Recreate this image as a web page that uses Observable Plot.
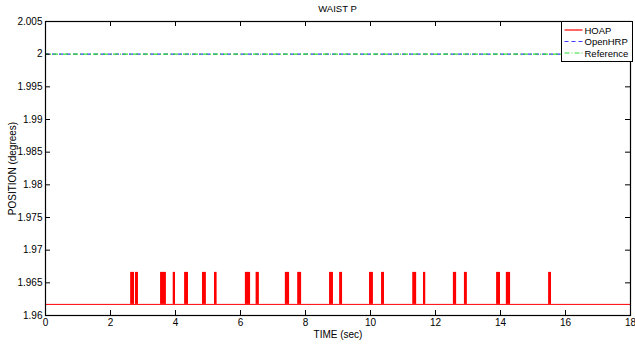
<!DOCTYPE html>
<html><head><meta charset="utf-8">
<script src="https://cdn.jsdelivr.net/npm/d3@7"></script>
<script src="https://cdn.jsdelivr.net/npm/@observablehq/plot@0.6"></script>
<style>body{margin:0;background:#fff}#c{position:relative;width:635px;height:347px}</style>
</head><body><div id="c"></div>
<script>
const title = "WAIST P";
const xTicks = [0,2,4,6,8,10,12,14,16,18];
const yTicks = [1.96,1.965,1.97,1.975,1.98,1.985,1.99,1.995,2,2.005];
const seriesNames = ["HOAP","OpenHRP","Reference"];
const hoapBase = 1.9617;
const hoapTop = 1.9666;
const spikeStart = [2.62,2.77,3.54,3.93,4.28,4.83,5.20,6.15,6.48,7.38,7.76,8.74,9.05,9.97,10.34,11.30,11.63,12.55,12.89,13.88,14.18,15.48];
const spikeEnd   = [2.74,2.86,3.72,4.00,4.40,4.95,5.28,6.31,6.58,7.51,7.88,8.86,9.14,10.09,10.43,11.42,11.70,12.65,12.98,14.00,14.31,15.57];
const openhrpValue = 2.0;
const referenceValue = 2.0;
const tStart = 0, tEnd = 18;

const W = 635, H = 347, mL = 45, mR = 5, mT = 21, mB = 32;
const pw = W - mL - mR, ph = H - mT - mB;
const spikes = spikeStart.map((s,i)=>({x1:s,x2:spikeEnd[i]}));
const font = "Liberation Sans, Arial, Helvetica, sans-serif";

const chart = Plot.plot({
  width: W, height: H, marginLeft: mL, marginRight: mR, marginTop: mT, marginBottom: mB,
  style: {fontFamily: font, fontSize: "10px", background: "#fff", color: "#000"},
  x: {domain: [tStart, tEnd]},
  y: {domain: [1.96, 2.005]},
  marks: [
    Plot.ruleY([hoapBase], {stroke: "#ff0000", strokeWidth: 1}),
    Plot.rect(spikes, {x1:"x1", x2:"x2", y1: hoapBase, y2: hoapTop, fill: "#ff0000"}),
    Plot.ruleY([openhrpValue], {stroke: "#3b3bff", strokeWidth: 1.2, strokeDasharray: "4,3"}),
    Plot.ruleY([referenceValue], {stroke: "#33dd33", strokeWidth: 1.2, strokeDasharray: "5,2,1,2", strokeDashoffset: 2}),
    Plot.tickX(xTicks, {x: d=>d, insetTop: ph-5, stroke: "#000"}),
    Plot.tickX(xTicks, {x: d=>d, insetBottom: ph-5, stroke: "#000"}),
    Plot.tickY(yTicks, {y: d=>d, insetRight: pw-5, stroke: "#000"}),
    Plot.tickY(yTicks, {y: d=>d, insetLeft: pw-5, stroke: "#000"}),
    Plot.axisX(xTicks, {tickSize: 0, tickPadding: 3, label: "TIME (sec)", labelAnchor: "center", labelArrow: "none", labelOffset: 22}),
    Plot.axisY(yTicks, {tickSize: 0, tickPadding: 3, tickFormat: d=>String(+d.toFixed(3)), label: "POSITION (degrees)", labelAnchor: "center", labelArrow: "none", labelOffset: 37}),
    Plot.frame({stroke: "#000", strokeWidth: 1.2})
  ]
});
document.getElementById("c").appendChild(chart);

const svg = d3.select(chart);
svg.append("text").attr("x", mL + pw/2).attr("y", 12).attr("text-anchor","middle")
  .style("font-family", font).style("font-size","9.5px").text(title);

const lg = svg.append("g").attr("transform","translate(561.5,21.5)");
lg.append("rect").attr("width",71).attr("height",40).attr("fill","#fff").attr("stroke","#000").attr("stroke-width",1);
const styles = [
  {stroke:"#ff0000", dash:null},
  {stroke:"#3b3bff", dash:"4,3"},
  {stroke:"#33dd33", dash:"5,2,1,2"}
];
seriesNames.forEach((n,i)=>{
  const y = 8.5 + i*11.5;
  lg.append("line").attr("x1",3).attr("x2",21).attr("y1",y).attr("y2",y)
    .attr("stroke",styles[i].stroke).attr("stroke-width",1.2).attr("stroke-dasharray",styles[i].dash);
  lg.append("text").attr("x",23).attr("y",y+3.5).attr("text-anchor","start")
    .style("font-family",font).style("font-size","9.5px").text(n);
});
</script></body></html>
